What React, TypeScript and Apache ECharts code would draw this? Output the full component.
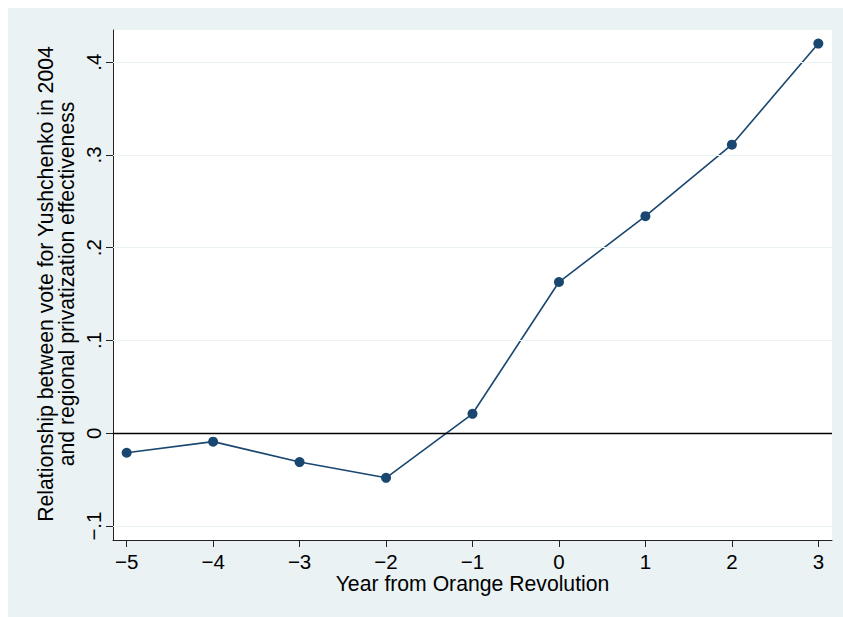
import React, { useEffect, useRef } from "react";
import * as echarts from "echarts";

const years = [-5, -4, -3, -2, -1, 0, 1, 2, 3];
const coefficients = [-0.021, -0.009, -0.031, -0.048, 0.021, 0.163, 0.234, 0.311, 0.42];
const yTicks = [-0.1, 0, 0.1, 0.2, 0.3, 0.4];
const xTicks = [-5, -4, -3, -2, -1, 0, 1, 2, 3];
const yTitle = "Relationship between vote for Yushchenko in 2004\nand regional privatization effectiveness";
const xTitle = "Year from Orange Revolution";

const FONT = "'Liberation Sans', Arial, sans-serif";
const NAVY = "#1A476F";
const BG = "#EAF2F3";
const AXIS = "#222";

function fmtY(v: number): string {
  const r = Math.round(v * 10) / 10;
  if (r === 0) return "0";
  const s = Math.abs(r).toFixed(1).replace(/^0/, "");
  return (r < 0 ? "\u2212" : "") + s;
}
function fmtX(v: number): string {
  const r = Math.round(v);
  return (r < 0 ? "\u2212" : "") + Math.abs(r);
}

export default function App() {
  const ref = useRef<HTMLDivElement>(null);
  useEffect(() => {
    if (!ref.current) return;
    const chart = echarts.init(ref.current, undefined, { renderer: "svg" });
    const data = years.map((y, i) => [y, coefficients[i]]);
    chart.setOption({
      animation: false,
      backgroundColor: BG,
      textStyle: { fontFamily: FONT },
      grid: {
        left: 105,
        right: 11,
        top: 22,
        bottom: 77,
        show: true,
        backgroundColor: "#FFFFFF",
        borderWidth: 0,
      },
      xAxis: {
        type: "value",
        min: -5.158,
        max: 3.158,
        axisLine: { show: true, onZero: false, lineStyle: { color: AXIS, width: 1 } },
        axisTick: { show: true, length: 7, customValues: xTicks, lineStyle: { color: AXIS } },
        axisLabel: {
          customValues: xTicks,
          formatter: (v: number) => fmtX(v),
          fontSize: 20.5,
          lineHeight: 17,
          color: "#000",
          fontFamily: FONT,
          margin: 13,
        },
        splitLine: { show: false },
      },
      yAxis: {
        type: "value",
        min: -0.115,
        max: 0.4346,
        axisLine: { show: true, onZero: false, lineStyle: { color: AXIS, width: 1 } },
        axisTick: { show: true, length: 7, customValues: yTicks, lineStyle: { color: AXIS } },
        axisLabel: {
          customValues: yTicks,
          formatter: (v: number) => fmtY(v),
          rotate: 90,
          fontSize: 20.5,
          lineHeight: 17,
          color: "#000",
          fontFamily: FONT,
          margin: 11,
        },
        splitLine: { show: false },
      },
      graphic: [
        {
          type: "text",
          x: 464.5,
          y: 575,
          style: {
            text: xTitle,
            font: `21.2px ${FONT}`,
            fill: "#000",
            textAlign: "center",
            textVerticalAlign: "middle",
            lineHeight: 17,
          },
        },
        {
          type: "text",
          x: 47.5,
          y: 276,
          rotation: Math.PI / 2,
          style: {
            text: yTitle,
            font: `21.2px ${FONT}`,
            fill: "#000",
            textAlign: "center",
            textVerticalAlign: "middle",
            lineHeight: 21,
          },
        },
      ],
      series: [
        {
          type: "line",
          data,
          z: 1,
          symbol: "none",
          lineStyle: { opacity: 0 },
          silent: true,
          markLine: {
            silent: true,
            symbol: "none",
            label: { show: false },
            lineStyle: { color: BG, width: 1.2, type: "solid" },
            data: yTicks.filter((t) => t !== 0).map((t) => ({ yAxis: t })),
          },
        },
        {
          type: "line",
          data,
          z: 2,
          symbol: "none",
          lineStyle: { opacity: 0 },
          silent: true,
          markLine: {
            silent: true,
            symbol: "none",
            label: { show: false },
            lineStyle: { color: "#000", width: 1.3, type: "solid" },
            data: [{ yAxis: 0 }],
          },
        },
        {
          type: "line",
          data,
          z: 3,
          symbol: "circle",
          symbolSize: 10,
          lineStyle: { color: NAVY, width: 1.6 },
          itemStyle: { color: NAVY },
        },
      ],
    });
    return () => chart.dispose();
  }, []);
  return (
    <div
      ref={ref}
      style={{ position: "fixed", left: 8, top: 8, width: 835, height: 609 }}
    />
  );
}
